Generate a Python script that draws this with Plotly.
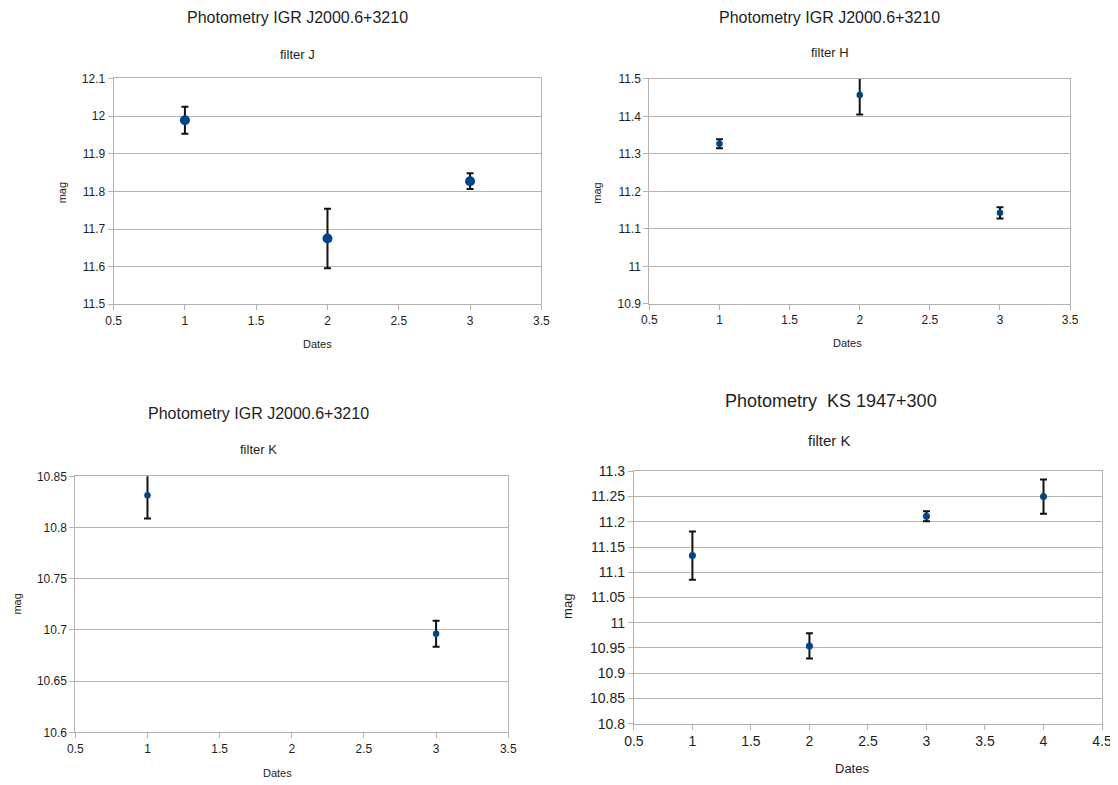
import plotly.graph_objects as go

W, H = 1118, 785

# ---- data ----
j_dates = [1, 2, 3]
j_mag = [11.989, 11.675, 11.827]
j_err = [0.036, 0.079, 0.021]

h_dates = [1, 2, 3]
h_mag = [11.327, 11.457, 11.143]
h_err = [0.012, 0.052, 0.015]

k_dates = [1, 3]
k_mag = [10.8315, 10.6964]
k_err = [0.0226, 0.0127]

ks_dates = [1, 2, 3, 4]
ks_mag = [11.133, 10.954, 11.211, 11.250]
ks_err = [0.048, 0.025, 0.010, 0.034]

title_igr = "Photometry IGR J2000.6+3210"
title_ks = "Photometry  KS 1947+300"

MARKER = "#004586"
GRID = "#b3b3b3"
TXT = "#1e1e1e"
FONT = "Liberation Sans, Arial, sans-serif"


def px_x(px):
    return ((px - 16.8) / 0.985) / W


def px_y(py):
    return 1 - ((py - 15.4) / 0.9817) / H


# panel rectangles in pixels (left, right, top, bottom)
panels = [
    dict(box=(112.7, 541.7, 78, 304.3), x=j_dates, y=j_mag, e=j_err, xr=[0.5, 3.5], yr=[11.5, 12.1], dy=0.1,
         ms=10, tf=12),
    dict(box=(650, 1072, 78.3, 304), x=h_dates, y=h_mag, e=h_err, xr=[0.5, 3.5], yr=[10.9, 11.5], dy=0.1,
         ms=6.5, tf=12),
    dict(box=(74.3, 508.5, 476.7, 733.3), x=k_dates, y=k_mag, e=k_err, xr=[0.5, 3.5], yr=[10.6, 10.85], dy=0.05,
         ms=6.5, tf=12),
    dict(box=(634.5, 1104, 471.7, 724.6), x=ks_dates, y=ks_mag, e=ks_err, xr=[0.5, 4.5], yr=[10.8, 11.3], dy=0.05,
         ms=7, tf=14),
]

fig = go.Figure()
layout = dict(
    width=W, height=H, margin=dict(l=0, r=0, t=0, b=0),
    paper_bgcolor="white", plot_bgcolor="white", showlegend=False,
    font=dict(family=FONT, color=TXT),
)

for i, p in enumerate(panels, start=1):
    l, r, t, b = p["box"]
    sfx = "" if i == 1 else str(i)
    fig.add_trace(go.Scatter(
        x=p["x"], y=p["y"], mode="markers",
        marker=dict(color=MARKER, size=p["ms"]),
        error_y=dict(type="data", array=p["e"], visible=True, color="#111111", thickness=2, width=3.5),
        xaxis="x" + sfx, yaxis="y" + sfx,
    ))
    layout["xaxis" + sfx] = dict(
        domain=[px_x(l), px_x(r)], range=p["xr"], dtick=0.5, tick0=0.5,
        anchor="y" + sfx, showgrid=False, zeroline=False,
        showline=True, linecolor=GRID, linewidth=1, mirror=True,
        ticks="outside", ticklen=5, tickcolor=GRID,
        tickfont=dict(size=p["tf"], color=TXT, family=FONT),
    )
    layout["yaxis" + sfx] = dict(
        domain=[px_y(b), px_y(t)], range=p["yr"], dtick=p["dy"], tick0=p["yr"][0],
        anchor="x" + sfx, showgrid=True, gridcolor=GRID, gridwidth=1, zeroline=False,
        showline=True, linecolor=GRID, linewidth=1, mirror=True,
        ticks="outside", ticklen=5, tickcolor=GRID,
        tickfont=dict(size=p["tf"], color=TXT, family=FONT),
    )

fig.update_layout(**layout)

annots = [
    # panel 1
    (297, 17, title_igr, 16, 0), (297, 54, "filter J", 13, 0),
    (317, 344, "Dates", 11, 0), (61, 193, "mag", 11, -90),
    # panel 2
    (831, 17, title_igr, 16, 0), (831, 52, "filter H", 13, 0),
    (849, 343, "Dates", 11, 0), (598, 193, "mag", 11, -90),
    # panel 3
    (258, 414, title_igr, 16, 0), (258, 450, "filter K", 13, 0),
    (277, 774, "Dates", 11, 0), (16, 605, "mag", 11, -90),
    # panel 4
    (832, 401, title_ks, 18, 0), (831, 441, "filter K", 15, 0),
    (853, 770, "Dates", 13, 0), (568, 607, "mag", 13, -90),
]
for x, y, txt, fs, ang in annots:
    fig.add_annotation(x=px_x(x), y=px_y(y), xref="paper", yref="paper", text=txt, showarrow=False,
                       xanchor="center", yanchor="middle", textangle=ang,
                       font=dict(size=fs, color=TXT, family=FONT))

fig.write_html("out.html")
